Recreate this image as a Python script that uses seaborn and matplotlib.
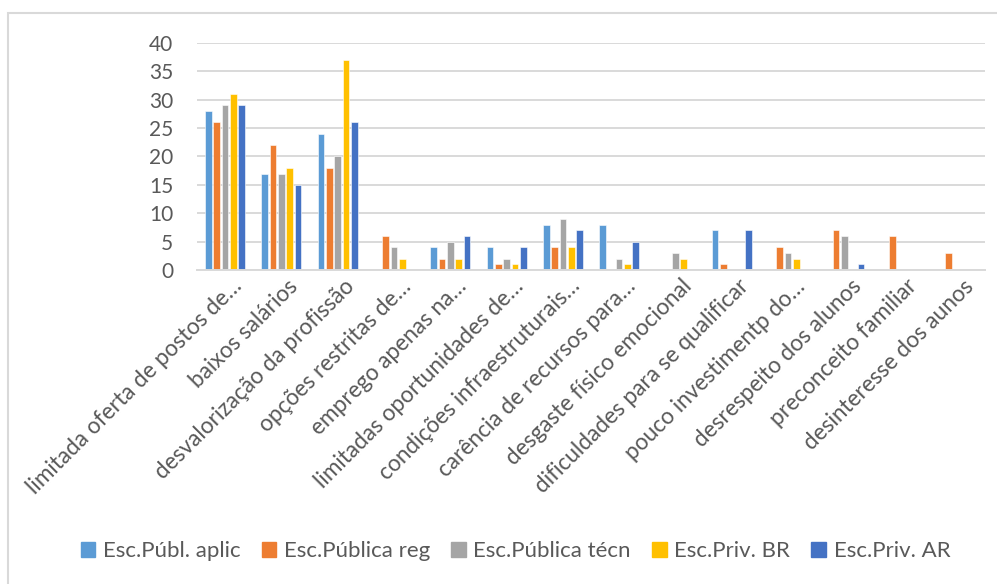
import pandas as pd
import matplotlib.pyplot as plt
import matplotlib.transforms as mtransforms
import seaborn as sns
from matplotlib.patches import Rectangle

# === DATA ===
categories = [
    "limitada oferta de postos de…",
    "baixos salários",
    "desvalorização da profissão",
    "opções restritas de…",
    "emprego apenas na…",
    "limitadas oportunidades de…",
    "condições infraestruturais…",
    "carência de recursos para…",
    "desgaste físico emocional",
    "dificuldades para se qualificar",
    "pouco investimentp do…",
    "desrespeito dos alunos",
    "preconceito familiar",
    "desinteresse dos aunos",
]
series = ["Esc.Públ. aplic", "Esc.Pública reg", "Esc.Pública técn", "Esc.Priv. BR", "Esc.Priv. AR"]
publ_aplic = [28, 17, 24, 0, 4, 4, 8, 8, 0, 7, 0, 0, 0, 0]
publ_reg = [26, 22, 18, 6, 2, 1, 4, 0, 0, 1, 4, 7, 6, 3]
publ_tecn = [29, 17, 20, 4, 5, 2, 9, 2, 3, 0, 3, 6, 0, 0]
priv_br = [31, 18, 37, 2, 2, 1, 4, 1, 2, 0, 2, 0, 0, 0]
priv_ar = [29, 15, 26, 0, 6, 4, 7, 5, 0, 7, 0, 1, 0, 0]
colors = ["#5B9BD5", "#ED7D31", "#A5A5A5", "#FFC000", "#4472C4"]

values = [publ_aplic, publ_reg, publ_tecn, priv_br, priv_ar]
rows = []
for name, vals in zip(series, values):
    for cat, v in zip(categories, vals):
        rows.append({"categoria": cat, "escola": name, "valor": v})
df = pd.DataFrame(rows)

# === PLOT ===
sns.set_theme(style="white")
plt.rcParams["font.family"] = ["Lato", "DejaVu Sans"]
text_color = "#595959"

fig = plt.figure(figsize=(9.97, 5.84), dpi=100)
ax = fig.add_axes([0.1976, 0.5377, 0.7904, 0.3887])

sns.barplot(data=df, x="categoria", y="valor", hue="escola", palette=colors,
            width=0.74, gap=0.2, ax=ax, legend=False, saturation=1,
            edgecolor="white", linewidth=0.4)

ax.set_ylim(0, 40)
ax.set_yticks(range(0, 41, 5))
ax.set_xlim(-0.5, len(categories) - 0.5)
ax.yaxis.grid(True, color="#D9D9D9", linewidth=1.4)
ax.set_axisbelow(True)
for side in ["top", "right", "left"]:
    ax.spines[side].set_visible(False)
ax.spines["bottom"].set_color("#D9D9D9")
ax.spines["bottom"].set_linewidth(1.4)
ax.set_xlabel("")
ax.set_ylabel("")
ax.tick_params(axis="y", length=0, labelsize=15, labelcolor=text_color, pad=17)
ax.tick_params(axis="x", length=0, labelsize=16.3, labelcolor=text_color, pad=4)
ax.set_xticks(range(len(categories)))
ax.set_xticklabels(categories, rotation=45, ha="right", rotation_mode="anchor")
shift = mtransforms.ScaledTranslation(6 / 100, 0, fig.dpi_scale_trans)
for lbl in ax.get_xticklabels():
    lbl.set_transform(lbl.get_transform() + shift)

handles = [Rectangle((0, 0), 1, 1, color=c) for c in colors]
fig.legend(handles, series, loc="center", bbox_to_anchor=(0.517, 0.056), ncol=5,
           frameon=False, fontsize=16, handlelength=0.65, handleheight=0.65,
           handletextpad=0.35, columnspacing=0.95, labelcolor=text_color)

# outer chart border
fig.patches.append(Rectangle((8 / 997, -0.1), 1.2, 1 - 13 / 584 + 0.1,
                             transform=fig.transFigure, fill=False,
                             edgecolor="#D9D9D9", linewidth=1.5))

fig.savefig("out.png", dpi=100)
